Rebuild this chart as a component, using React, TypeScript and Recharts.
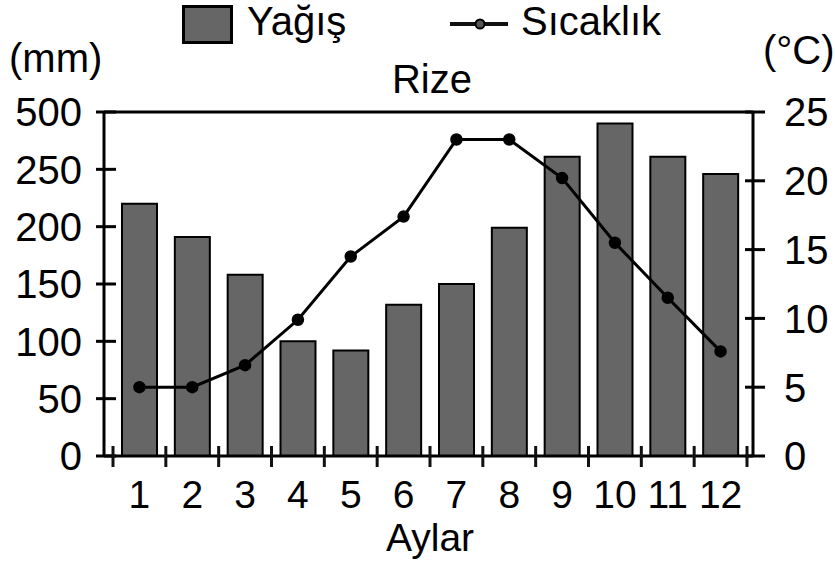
import React from 'react';
import { ComposedChart, Bar, Line, XAxis, YAxis, ReferenceLine } from 'recharts';

const MONTHS = ['1', '2', '3', '4', '5', '6', '7', '8', '9', '10', '11', '12'];
const PRECIP = [220, 191, 158, 100, 92, 132, 150, 199, 261, 290, 261, 246];
const TEMP = [5.0, 5.0, 6.6, 9.9, 14.5, 17.4, 23.0, 23.0, 20.2, 15.5, 11.5, 7.6];
const LEFT_TICKS = [0, 50, 100, 150, 200, 250, 300];
const LEFT_TICK_LABELS = ['0', '50', '100', '150', '200', '250', '500'];
const RIGHT_TICKS = [0, 5, 10, 15, 20, 25];
const BAR_NAME = 'Yağış';
const LINE_NAME = 'Sıcaklık';
const TITLE = 'Rize';
const X_TITLE = 'Aylar';
const LEFT_UNIT = '(mm)';
const RIGHT_UNIT = '(°C)';

const data = MONTHS.map((m, i) => ({ month: m, precip: PRECIP[i], temp: TEMP[i] }));

const FONT = '"Liberation Sans", Arial, Helvetica, sans-serif';
const FS = 40;
const W = 835;
const H = 563;
const LEFT_W = 104;
const RIGHT_W = 82;
const PAD_L = 9;
const PAD_R = 6;
const HALF_BAND = (W - LEFT_W - RIGHT_W - PAD_L - PAD_R) / MONTHS.length / 2;
const TICK_MARGIN = 2; // recharts default tickMargin
const INK = '#111111';

// y-axis labels (tick marks are drawn by reference-line shapes below)
const LeftTick = (props: any) => {
  const { x, y, payload } = props;
  const ax = Number(x) + 8 + TICK_MARGIN;
  const idx = LEFT_TICKS.indexOf(payload.value);
  return (
    <text x={ax - 22} y={Number(y)} dy="0.36em" textAnchor="end" fontSize={FS} fontFamily={FONT} fill="#000">
      {idx >= 0 ? LEFT_TICK_LABELS[idx] : payload.value}
    </text>
  );
};

const RightTick = (props: any) => {
  const { x, y, payload } = props;
  const ax = Number(x) - 12 - TICK_MARGIN;
  return (
    <text x={ax + 31} y={Number(y)} dy="0.36em" textAnchor="start" fontSize={FS} fontFamily={FONT} fill="#000">
      {payload.value}
    </text>
  );
};

// crossing tick marks on the left / right axes, positioned by the axis scale
const LeftTickMark = (p: any) => {
  const xl = Math.min(Number(p.x1), Number(p.x2));
  return <path d={`M${xl - 8},${p.y1}H${xl + 12}`} stroke="#000" strokeWidth={3} fill="none" />;
};
const RightTickMark = (p: any) => {
  const xr = Math.max(Number(p.x1), Number(p.x2));
  return <path d={`M${xr - 8},${p.y1}H${xr + 12}`} stroke="#000" strokeWidth={3} fill="none" />;
};

// bottom axis: month label at band centre, tick marks at band boundaries
const MonthTick = (props: any) => {
  const { x, y, payload, index } = props;
  const cx = Number(x);
  const ay = Number(y) - TICK_MARGIN;
  const isLast = index === MONTHS.length - 1;
  return (
    <g>
      <rect x={cx - HALF_BAND - 1.5} y={ay - 10} width={3} height={21} fill={INK} />
      {isLast && <rect x={cx + HALF_BAND - 1.5} y={ay - 10} width={3} height={21} fill={INK} />}
      <text x={cx} y={ay + 52} textAnchor="middle" fontSize={39} fontFamily={FONT} fill="#000">
        {payload.value}
      </text>
    </g>
  );
};

export default function App() {
  return (
    <div style={{ position: 'absolute', left: 0, top: 0, width: W, height: H, background: '#fff' }}>
      <svg
        width={W}
        height={H}
        style={{ position: 'absolute', left: 0, top: 0 }}
        fontFamily={FONT}
        fontSize={FS}
      >
        <rect x={183.5} y={6.5} width={48} height={36} fill="#666666" stroke="#000" strokeWidth={3} />
        <text x={247} y={35} fill="#000">{BAR_NAME}</text>
        <rect x={450} y={22} width={58} height={4} fill={INK} />
        <circle cx={480} cy={24} r={4.5} fill="#555" stroke="#000" strokeWidth={2} />
        <text x={521} y={35} fill="#000">{LINE_NAME}</text>
        <text x={9} y={72} fill="#000">{LEFT_UNIT}</text>
        <text x={763} y={64} fill="#000">{RIGHT_UNIT}</text>
        <text x={432} y={93} textAnchor="middle" fill="#000">{TITLE}</text>
        <text x={430} y={551} textAnchor="middle" fontSize={39} fill="#000">{X_TITLE}</text>
      </svg>
      <ComposedChart
        width={W}
        height={H}
        data={data}
        margin={{ top: 112, right: 0, bottom: 0, left: 0 }}
      >
        <XAxis
          dataKey="month"
          type="category"
          padding={{ left: PAD_L, right: PAD_R }}
          height={107}
          tickSize={0}
          tickLine={false}
          axisLine={{ stroke: '#000', strokeWidth: 3 }}
          tick={(p: any) => <MonthTick {...p} />}
        />
        <YAxis
          yAxisId="left"
          orientation="left"
          domain={[0, 300]}
          ticks={LEFT_TICKS}
          width={LEFT_W}
          tickSize={8}
          tickLine={false}
          tick={(p: any) => <LeftTick {...p} />}
          axisLine={{ stroke: '#000', strokeWidth: 3 }}
        />
        <YAxis
          yAxisId="right"
          orientation="right"
          domain={[0, 25]}
          ticks={RIGHT_TICKS}
          width={RIGHT_W}
          tickSize={12}
          tickLine={false}
          tick={(p: any) => <RightTick {...p} />}
          axisLine={{ stroke: '#000', strokeWidth: 3 }}
        />
        <ReferenceLine yAxisId="left" y={300} stroke="#000" strokeWidth={3} />
        {LEFT_TICKS.map((v) => (
          <ReferenceLine key={`lt${v}`} yAxisId="left" y={v} stroke="#000" shape={(p: any) => <LeftTickMark {...p} />} />
        ))}
        {RIGHT_TICKS.map((v) => (
          <ReferenceLine key={`rt${v}`} yAxisId="right" y={v} stroke="#000" shape={(p: any) => <RightTickMark {...p} />} />
        ))}
        <Bar
          yAxisId="left"
          dataKey="precip"
          name={BAR_NAME}
          fill="#666666"
          stroke="#000"
          strokeWidth={2}
          barSize={35}
          isAnimationActive={false}
        />
        <Line
          yAxisId="right"
          dataKey="temp"
          name={LINE_NAME}
          type="linear"
          stroke="#000"
          strokeWidth={3}
          dot={{ r: 5.5, fill: '#000', stroke: '#000', strokeWidth: 1.5 }}
          activeDot={false}
          isAnimationActive={false}
        />
      </ComposedChart>
    </div>
  );
}
